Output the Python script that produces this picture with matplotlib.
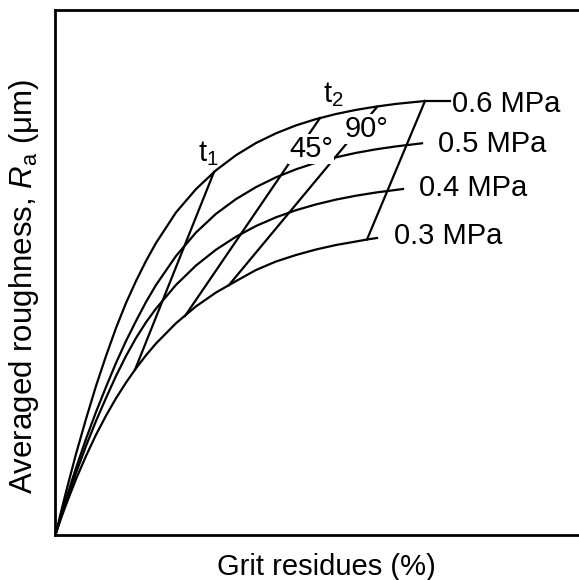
import matplotlib
matplotlib.use("Agg")
import matplotlib.pyplot as plt

plt.rcParams['font.family'] = ['Liberation Sans', 'DejaVu Sans']
plt.rcParams['mathtext.fontset'] = 'custom'
plt.rcParams['mathtext.rm'] = 'Liberation Sans'
plt.rcParams['mathtext.it'] = 'Liberation Sans:italic'

# curvas esquematicas (unidades arbitrarias)
x_06 = [0, 5, 10, 20, 30, 40, 50, 60, 70, 80, 90, 100, 120, 140, 160, 180, 200,
        220, 240, 260, 280, 300, 320, 340, 369, 394]
y_06 = [0, 21, 41, 79, 114, 147, 177, 205, 230, 252, 272, 290, 320.6, 343.9, 362.7,
        377.8, 390.0, 399.7, 407.6, 413.9, 419.0, 423.1, 426.4, 429.1, 432, 432]

x_05 = [0, 5, 10, 20, 30, 40, 50, 60, 70, 80, 90, 100, 120, 140, 160, 180, 200,
        220, 240, 260, 280, 300, 320, 340, 366]
y_05 = [0, 17, 34, 65, 94, 121, 146, 170, 192, 212, 231, 248, 277, 300.5, 319.2,
        333.9, 345.9, 355.7, 363.7, 370.3, 375.7, 380.1, 383.7, 386.6, 389.7]

x_04 = [0, 5, 10, 20, 30, 40, 50, 60, 70, 80, 90, 100, 120, 140, 160, 180, 200,
        220, 240, 260, 280, 300, 320, 347]
y_04 = [0, 16, 31, 60, 87, 112, 135, 157, 177, 195, 210.7, 224.4, 248.1, 267.5, 283.3,
        296.3, 307.0, 315.7, 322.8, 328.6, 333.4, 337.3, 340.5, 344.0]

x_03 = [0, 5, 10, 20, 30, 40, 50, 60, 70, 80, 90, 100, 120, 140, 160, 180, 200,
        220, 240, 260, 280, 300, 311, 321]
y_03 = [0, 14.5, 28.2, 53.8, 77.0, 98.2, 117.3, 134.7, 150.4, 164.7, 177.7, 189.5,
        209.8, 226.6, 240.5, 251.9, 263, 271.5, 278, 283.5, 288, 291.5, 293.5, 295]

curvas = [(x_06, y_06), (x_05, y_05), (x_04, y_04), (x_03, y_03)]
presiones = ["0.6 MPa", "0.5 MPa", "0.4 MPa", "0.3 MPa"]
pos_presion = [(396, 429), (382, 389), (363, 345), (338, 297)]

# lineas que cruzan las curvas (de 0.6 MPa a 0.3 MPa)
lineas_x = [[158, 79], [264, 129], [321, 173], [369, 311]]
lineas_y = [[361, 163.3], [415, 217], [426, 248], [432, 293.5]]

etiquetas = [r"$\mathregular{t_1}$", r"$\mathregular{t_2}$", "45°", "90°"]
pos_etiquetas = [(152, 379), (277, 438), (255, 384), (311, 404)]

fig = plt.figure(figsize=(5.79, 5.80), dpi=100)
ax = fig.add_axes([55 / 579, 45 / 580, 535 / 579, 525 / 580])
ax.set_xlim(-1, 534)
ax.set_ylim(-2, 523)

for xs, ys in curvas:
    ax.plot(xs, ys, color="black", lw=1.6, solid_joinstyle="round")
for xs, ys in zip(lineas_x, lineas_y):
    ax.plot(xs, ys, color="black", lw=1.6)

for texto, (x, y) in zip(presiones, pos_presion):
    ax.text(x, y, texto, fontsize=21, ha="left", va="center")

for texto, (x, y) in zip(etiquetas, pos_etiquetas):
    if "°" in texto:
        ax.text(x, y, texto, fontsize=21, ha="center", va="center",
                bbox=dict(facecolor="white", edgecolor="none", pad=0.5))
    else:
        ax.text(x, y, texto, fontsize=21, ha="center", va="center")

ax.set_xticks([])
ax.set_yticks([])
for lado in ["left", "bottom", "top"]:
    ax.spines[lado].set_linewidth(2)
ax.spines["right"].set_visible(False)

fig.text(326 / 579, 1 - 575 / 580, "Grit residues (%)", fontsize=21,
         ha="center", va="baseline")
fig.text(24 / 579, 1 - 287 / 580, r"Averaged roughness, $\mathit{R}_{\mathregular{a}}$ (μm)",
         fontsize=22.5, ha="center", va="center", rotation=90)

fig.savefig("out.png", dpi=100)
